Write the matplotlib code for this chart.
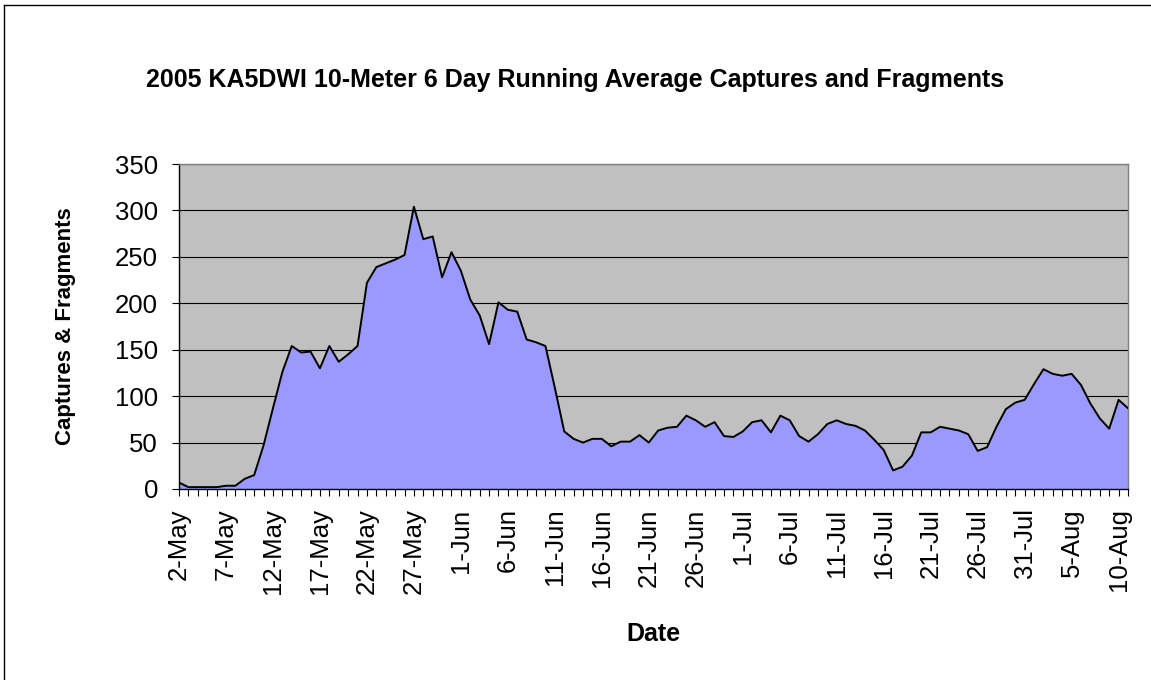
import numpy as np
import matplotlib
matplotlib.use("Agg")
import matplotlib.pyplot as plt
from matplotlib.lines import Line2D
from matplotlib.ticker import FixedLocator

FONT = "Liberation Sans"
FILL = "#9999FF"
PLOT_BG = "#C0C0C0"

# daily 6-day running average, 2-May .. 11-Aug 2005
captures = [
    7, 2, 2, 2, 2, 3.5, 3.5, 11, 15, 47,
    87, 126, 154, 147, 148, 130, 154, 137, 145, 154,
    222, 239, 243, 247, 252, 304, 269, 272, 228, 255,
    235, 204, 187, 156, 201, 193, 191, 161, 158, 154,
    109, 62, 54, 50, 54, 54, 46, 51, 51, 58,
    50, 63, 66, 67, 79, 74, 67, 72, 57, 56,
    62, 72, 74, 61, 79, 74, 57, 51, 59, 70,
    74, 70, 68, 63, 53, 42, 20, 24, 36, 61,
    61, 67, 65, 63, 59, 41, 45, 67, 86, 93,
    96, 113, 129, 124, 122, 124, 112, 92, 76, 65,
    96, 87,
]
day_index = np.arange(len(captures))

tick_labels = [
    "2-May", "7-May", "12-May", "17-May", "22-May", "27-May",
    "1-Jun", "6-Jun", "11-Jun", "16-Jun", "21-Jun", "26-Jun",
    "1-Jul", "6-Jul", "11-Jul", "16-Jul", "21-Jul", "26-Jul",
    "31-Jul", "5-Aug", "10-Aug",
]
tick_days = np.arange(0, 5 * len(tick_labels), 5)
y_ticks = [0, 50, 100, 150, 200, 250, 300, 350]

fig = plt.figure(figsize=(11.51, 6.80), dpi=100, facecolor="white")
ax = fig.add_axes([179 / 1151, 1 - 489 / 680, 949 / 1151, 325 / 680],
                  facecolor=PLOT_BG)

# outer chart border (only left and top are inside the picture)
fig.add_artist(Line2D([4 / 1151, 4 / 1151], [-0.1, 1 - 5 / 680],
                      transform=fig.transFigure, color="black", lw=1.0))
fig.add_artist(Line2D([4 / 1151, 1.1], [1 - 5 / 680, 1 - 5 / 680],
                      transform=fig.transFigure, color="black", lw=1.0))

ax.set_axisbelow(True)
ax.yaxis.grid(True, color="black", linewidth=0.8)

ax.fill_between(day_index, captures, 0, color=FILL, linewidth=0, zorder=2)
ax.plot(day_index, captures, color="black", linewidth=1.4, zorder=3)

ax.set_xlim(0, len(captures) - 1)
ax.set_ylim(0, 350)

ax.set_yticks(y_ticks)
ax.set_yticklabels([str(v) for v in y_ticks])
ax.set_xticks(tick_days)
ax.set_xticklabels(tick_labels, rotation=90)
ax.xaxis.set_minor_locator(FixedLocator(day_index))

for sp in ("top", "right"):
    ax.spines[sp].set_color("#808080")
    ax.spines[sp].set_linewidth(1.0)
for sp in ("left", "bottom"):
    ax.spines[sp].set_color("black")
    ax.spines[sp].set_linewidth(1.0)

ax.tick_params(axis="y", direction="out", length=5, width=0.8,
               pad=10, labelsize=18.5, colors="black")
ax.tick_params(axis="x", which="both", direction="out", length=5,
               width=0.8, pad=9, labelsize=18.5, colors="black")
for lab in ax.get_xticklabels() + ax.get_yticklabels():
    lab.set_fontfamily(FONT)

ax.set_xlabel("Date", fontfamily=FONT, fontsize=18, fontweight="bold",
              labelpad=20)
ax.set_ylabel("Captures & Fragments", fontfamily=FONT, fontsize=16,
              fontweight="bold", labelpad=28)

fig.text(0.5, 1 - 80 / 680,
         "2005 KA5DWI 10-Meter 6 Day Running Average Captures and Fragments",
         fontfamily=FONT, fontsize=18, fontweight="bold",
         ha="center", va="center")

fig.savefig("out.png", dpi=100, facecolor="white")
